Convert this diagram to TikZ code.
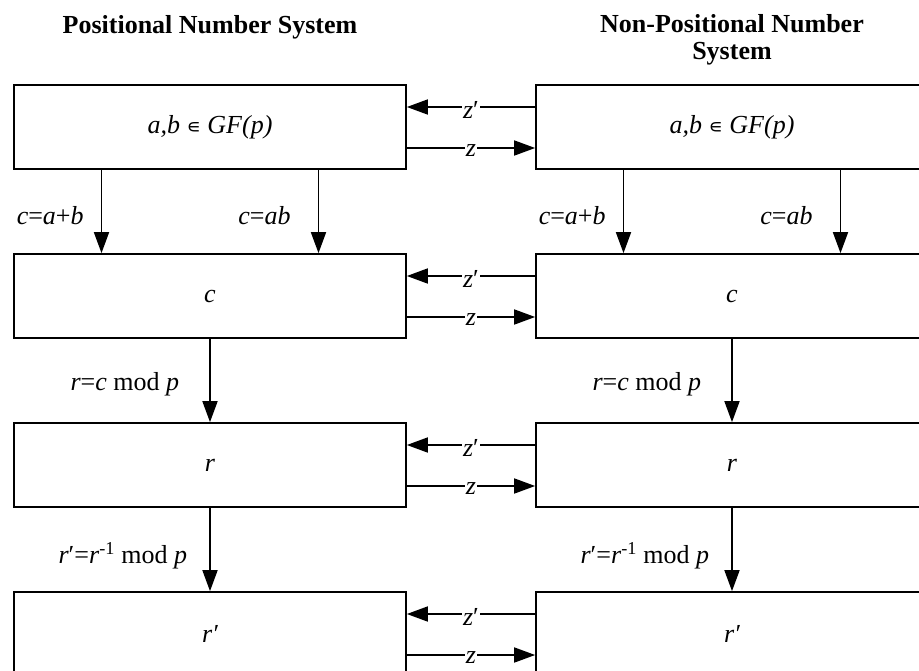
\documentclass[tikz,border=0pt]{standalone}
\usepackage{fontspec}
\setmainfont{Liberation Serif}
\newfontfamily\djsans{DejaVu Sans}
\usetikzlibrary{arrows.meta}
\begin{document}
\begin{tikzpicture}[x=1pt,y=-1pt,
  box/.style={draw,line width=1.7pt,minimum width=392pt,minimum height=84pt,inner sep=0pt,
    font=\fontsize{26}{30}\selectfont\itshape},
  arr/.style={line width=1.7pt,-{Triangle[length=21pt,width=15pt]}},
  vl/.style={anchor=east,inner sep=0pt,yshift=-4pt,font=\fontsize{26}{30}\selectfont},
  zlab/.style={fill=white,inner sep=1pt,yshift=-3pt,font=\fontsize{26}{30}\selectfont},
  ttl/.style={font=\fontsize{26}{27}\selectfont\bfseries,align=center,inner sep=0pt}]
\clip (0,0) rectangle (919,670);
% titles
\node[ttl,anchor=base] (t1) at (210,33) {Positional Number System};
\node[ttl,anchor=north] (t2) at (732,14) {Non-Positional Number\\System};
% boxes
\node[box] (L1) at (210,127) {a,b {\upshape\djsans\fontsize{20}{20}\selectfont ∊} GF(p)};
\node[box] (R1) at (732,127) {a,b {\upshape\djsans\fontsize{20}{20}\selectfont ∊} GF(p)};
\node[box] (L2) at (210,296) {c};
\node[box] (R2) at (732,296) {c};
\node[box] (L3) at (210,465) {r};
\node[box] (R3) at (732,465) {r};
\node[box] (L4) at (210,634) {r′};
\node[box] (R4) at (732,634) {r′};
% horizontal links
\foreach \i in {1,2,3,4}{
  \draw[arr] ([yshift=20pt]R\i.west) -- node[zlab]{\textit{z}′} ([yshift=20pt]L\i.east);
  \draw[arr] ([yshift=-21pt]L\i.east) -- node[zlab]{\textit{z}} ([yshift=-21pt]R\i.west);
}
% vertical arrows
\foreach \s in {L,R}{
  \draw[arr] ([xshift=-108.5pt]\s1.south) -- node[vl,xshift=-17pt]{\textit{c}=\textit{a}+\textit{b}} ([xshift=-108.5pt]\s2.north);
  \draw[arr] ([xshift=108.5pt]\s1.south) -- node[vl,xshift=-27pt]{\textit{c}=\textit{ab}} ([xshift=108.5pt]\s2.north);
  \draw[arr] (\s2.south) -- node[vl,xshift=-30pt]{\textit{r}=\textit{c} mod \textit{p}} (\s3.north);
  \draw[arr] (\s3.south) -- node[vl,xshift=-22pt,yshift=-2pt]{\textit{r}′=\textit{r}\textsuperscript{-1} mod \textit{p}} (\s4.north);
}
\end{tikzpicture}
\end{document}
